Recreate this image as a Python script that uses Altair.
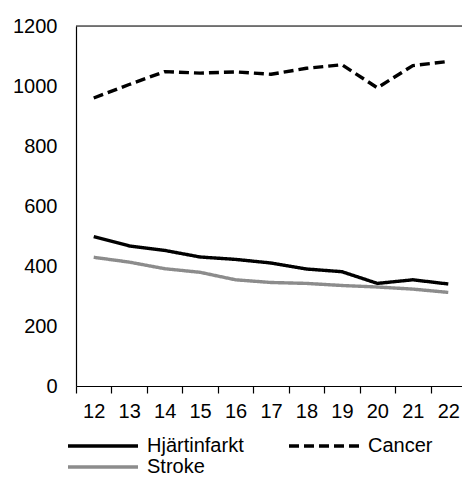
import altair as alt
import pandas as pd

years = ["12", "13", "14", "15", "16", "17", "18", "19", "20", "21", "22"]
hjartinfarkt = [498, 467, 452, 430, 422, 410, 390, 381, 342, 354, 340]
cancer = [960, 1005, 1048, 1043, 1047, 1039, 1059, 1071, 994, 1068, 1082]
stroke = [429, 413, 391, 379, 354, 345, 342, 335, 330, 323, 312]
series = ["Hjärtinfarkt", "Cancer", "Stroke"]
colors = ["#000000", "#000000", "#8c8c8c"]
dashes = [[1, 0], [10, 5], [1, 0]]

rows = []
for name, vals in zip(series, [hjartinfarkt, cancer, stroke]):
    for y, v in zip(years, vals):
        rows.append({"year": y, "value": v, "series": name})
df = pd.DataFrame(rows)

FONT = "Liberation Sans"
FS = 20
XR = 390

lines = alt.Chart(df).mark_line(strokeWidth=3.4, strokeJoin="round").encode(
    x=alt.X("year:N", sort=years, title=None,
            scale=alt.Scale(paddingInner=0, paddingOuter=0, range=[0, XR]),
            axis=alt.Axis(labelAngle=0, tickBand="extent", tickSize=7,
                          labelPadding=8, labelFontSize=FS, labelFont=FONT,
                          labelColor="#000", domainColor="#000", tickColor="#000",
                          domainWidth=1.2, tickWidth=1.2)),
    y=alt.Y("value:Q", title=None,
            scale=alt.Scale(domain=[0, 1200], nice=False),
            axis=alt.Axis(values=[0, 200, 400, 600, 800, 1000, 1200], ticks=False,
                          format="d", grid=False, labelPadding=19,
                          labelFontSize=FS, labelFont=FONT, labelColor="#000",
                          domainColor="#000", domainWidth=1.2)),
    color=alt.Color("series:N", sort=series,
                    scale=alt.Scale(domain=series, range=colors),
                    legend=alt.Legend(title=None, orient="none", legendX=-10,
                                      legendY=410, direction="horizontal",
                                      columns=2, symbolType="stroke",
                                      symbolSize=4900, symbolStrokeWidth=3.5,
                                      clipHeight=20, padding=0,
                                      labelFontSize=FS, labelFont=FONT,
                                      labelColor="#000", labelOffset=7,
                                      columnPadding=43, rowPadding=1)),
    strokeDash=alt.StrokeDash("series:N", sort=series,
                              scale=alt.Scale(domain=series, range=dashes),
                              legend=None),
)

top = alt.Chart(pd.DataFrame({"v": [1200]})).mark_rule(color="#000", strokeWidth=1.2).encode(
    y="v:Q", x=alt.value(0), x2=alt.value(400)
)

chart = alt.layer(lines, top).properties(
    width=386, height=360,
    autosize=alt.AutoSizeParams(type="none"),
    padding={"left": 68, "top": 18, "right": 0, "bottom": 92},
).configure_view(stroke=None).configure(background="white")

chart.save("out.html", embed_options={"renderer": "svg", "actions": False})
